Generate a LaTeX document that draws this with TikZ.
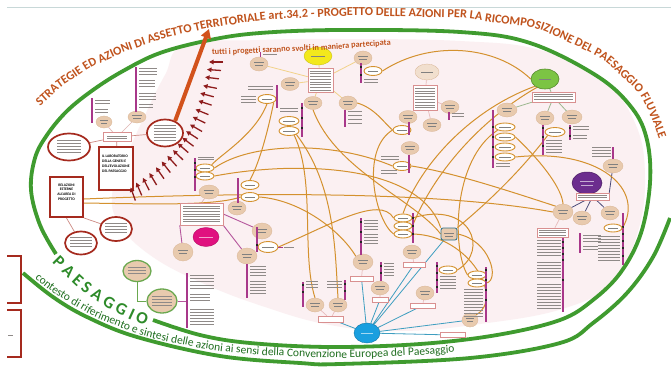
\documentclass[tikz,border=0pt]{standalone}
\usepackage{fontspec}
\newfontfamily\carl{Carlito}
\usetikzlibrary{shapes.geometric,decorations.text,arrows.meta}
\pgfdeclarelayer{back}
\pgfdeclarelayer{bg}
\pgfsetlayers{back,bg,main}
\definecolor{pinkbg}{HTML}{FBF0F2}
\definecolor{orc}{HTML}{D4912E}
\definecolor{beig}{HTML}{E8CAAE}
\definecolor{beigd}{HTML}{D9B595}
\definecolor{magc}{HTML}{A8388A}
\definecolor{redc}{HTML}{A52A1E}
\definecolor{grnl}{HTML}{3F9B2F}
\definecolor{grnb}{HTML}{6AA84F}
\definecolor{titc}{HTML}{C0531D}
\definecolor{dgr}{HTML}{1F6E1F}
\definecolor{pgr}{HTML}{2E8B2A}
\definecolor{cyc}{HTML}{1A9FDF}
\definecolor{cylc}{HTML}{3E9EC0}
\definecolor{arrc}{HTML}{8E1C1C}
\definecolor{txg}{HTML}{8F8A88}
\definecolor{boxb}{HTML}{D99090}
\definecolor{plc}{HTML}{4A4A78}
\definecolor{ylc}{HTML}{F2D28A}
\definecolor{glc}{HTML}{9DB890}
\definecolor{topl}{HTML}{C8D8D8}
\definecolor{yelc}{HTML}{F3E81C}
\definecolor{grec}{HTML}{7CC444}
\definecolor{purc}{HTML}{6C2D8E}
\definecolor{mgec}{HTML}{E0117F}
\definecolor{bigarr}{HTML}{D2521C}
\newcommand\tlines[5]{\foreach \k in {1,...,#4}{\draw[tl] (#1,{#2+(\k-1)*#5}) -- ++(#3,0);}}
\newcommand\bnode[5]{\node[bell,minimum width=#4pt,minimum height=#5pt] (#1) at (#2,#3) {};
  \draw[intx] ({#2-#4*0.26},{#3-1.4}) -- ({#2+#4*0.26},{#3-1.4}) ({#2-#4*0.2},{#3+1.3}) -- ({#2+#4*0.2},{#3+1.3});}
\newcommand\onode[5]{\node[oell,minimum width=#4pt,minimum height=#5pt] (#1) at (#2,#3) {};
  \draw[intx,line width=0.35pt] ({#2-#4*0.28},{#3}) -- ({#2+#4*0.28},{#3});}
\newcommand\blsq[2]{\fill[black!85] ({#1-1.3},{#2-1.3}) rectangle ({#1+1.3},{#2+1.3});}
\begin{document}
\begin{tikzpicture}[x=1pt,y=-1pt,
 bell/.style={ellipse,fill=beig,draw=beigd,line width=0.3pt,inner sep=0pt},
 oell/.style={ellipse,draw=orc,line width=0.9pt,fill=white,inner sep=0pt},
 rell/.style={ellipse,draw=redc,line width=1.7pt,fill=white,inner sep=0pt},
 gell/.style={ellipse,draw=grnb,line width=1.3pt,fill=beig,inner sep=0pt},
 wbox/.style={rectangle,draw=boxb,line width=0.5pt,fill=white,inner sep=0pt},
 hbox/.style={rectangle,draw=redc,line width=2pt,fill=white,inner sep=0pt},
 conn/.style={draw=orc,line width=1pt},
 mbar/.style={draw=magc,line width=1.4pt},
 tl/.style={draw=txg,line width=0.55pt},
 intx/.style={draw=black!50,line width=0.45pt},
 rl/.style={draw=redc!55,line width=0.7pt},
 cyl/.style={draw=cylc,line width=0.8pt},
 pl/.style={draw=plc,line width=0.8pt},
 yl/.style={draw=ylc,line width=0.8pt},
 gl/.style={draw=glc,line width=0.8pt},
 ml/.style={draw=magc!85,line width=0.9pt},
 boxfont/.style={font=\carl\bfseries\fontsize{3.7}{4.8}\selectfont}]
\useasboundingbox (0,0) rectangle (671,369);

% ---------------- back layer: regions and green frame
\begin{pgfonlayer}{back}
\fill[white] (0,0) rectangle (671,369);
\fill[pinkbg] plot[smooth cycle,tension=0.7] coordinates {(185,45) (260,40) (340,39) (460,41) (540,50) (600,78) (635,123) (645,180) (636,238) (612,283) (562,309) (480,324) (400,331) (330,325) (262,306) (200,282) (150,255) (120,225) (112,195) (125,160) (145,115) (165,75)};
\draw[grnl,line width=3.8pt] plot[smooth,tension=0.6] coordinates {(56,254) (40,225) (31,190) (35,158) (47,135) (67,111) (93,90) (123,71) (160,53) (210,40) (260,33) (340,30) (460,32) (530,43) (597,76) (632,108) (647,140) (650,183) (641,233) (621,272) (593,300) (560,320) (497,335) (420,344) (330,347) (250,343) (200,335) (153,320)};
\draw[grnl,line width=3.8pt] plot[smooth,tension=0.6] coordinates {(23,273) (53,297) (87,317) (137,337) (220,356) (300,363) (340,364) (470,358) (560,343) (593,323) (627,293) (653,257) (670,218)};
\draw[topl,line width=0.8pt] (7,7) -- (671,7);
\end{pgfonlayer}

% ---------------- left cluster
\node[rell,minimum width=42pt,minimum height=27pt] (redL) at (69,147) {};
\tlines{57}{140}{24}{5}{3}
\node[rell,minimum width=36pt,minimum height=27pt] (redR) at (165,133) {};
\tlines{154}{125}{22}{6}{3}
\node[wbox,minimum width=28pt,minimum height=9pt] (cbox) at (117,137) {};
\tlines{107}{136}{20}{2}{2.5}
\bnode{bA}{104}{122}{16}{12}
\bnode{bB}{137}{117}{18}{12}
\node[hbox,minimum width=34pt,minimum height=43pt] (lab) at (116,168.5) {};
\node[anchor=north west,inner sep=0pt,align=left,boxfont] (labt) at (102,155) {IL LABORATORIO\\DELLA GENESI E\\DELL'EVOLUZIONE\\DEL PAESAGGIO};
\node[hbox,minimum width=33pt,minimum height=40pt] (rel) at (66.5,197) {};
\node[inner sep=0pt,align=center,boxfont] (relt) at (66.5,192) {RELAZIONI\\ESTERNE\\ALL'AREA DI\\PROGETTO};
\node[rell,minimum width=32pt,minimum height=24pt] (redBa) at (116,229) {};
\tlines{105}{223}{22}{4}{3}
\node[rell,minimum width=32pt,minimum height=23pt] (redBb) at (81,243) {};
\tlines{70}{237}{22}{4}{3}
\node[gell,minimum width=28pt,minimum height=21pt] (ga) at (137,271) {};
\tlines{128}{267}{18}{3}{3}
\node[gell,minimum width=30pt,minimum height=24pt] (gb) at (162,301) {};
\tlines{152}{296}{20}{4}{3}
\draw[mbar] (92,98) -- (92,123); \tlines{95}{100}{15}{2}{3.5} \tlines{95}{109}{13}{2}{3.5}
\draw[mbar] (136,67) -- (136,112); \tlines{139}{68}{18}{3}{3.2} \tlines{139}{80}{16}{3}{3.2} \tlines{139}{93}{17}{3}{3.2} \tlines{139}{104}{14}{2}{3.2}
\draw[mbar] (187,273) -- (187,328); \tlines{190}{275}{24}{5}{3.3} \tlines{190}{294}{20}{3}{3.3} \tlines{190}{309}{24}{6}{3}
\draw[redc,line width=1.5pt] (7,256) -- (21,256) -- (21,303) -- (7,303);
\draw[redc,line width=1.5pt] (7,310) -- (21,310) -- (21,357) -- (7,357);
\draw[tl] (8,335) -- (13,335);

% ---------------- centre-left cluster
\node[wbox,minimum width=43pt,minimum height=22pt] (bigbox) at (201.5,214) {};
\tlines{183}{206}{37}{7}{2.6}
\node[ellipse,fill=mgec,draw=mgec!80!black,line width=0.4pt,minimum width=26pt,minimum height=19pt,inner sep=0pt] (mge) at (206,237) {};
\draw[draw=white!60!mgec,line width=0.5pt] (199,237) -- (213,237);
\bnode{bC}{183}{252}{20}{18}
\bnode{bD}{247}{256}{20}{16}
\bnode{bE}{262}{231}{20}{16}
\bnode{bF}{237}{208}{18}{14}
\bnode{bG}{209}{192}{20}{14}
\onode{oA}{268}{247}{20}{11}
\onode{oB}{250}{185}{18}{9}
\onode{oC}{250}{197}{18}{9}
\onode{oLa}{205}{168}{18}{8}
\onode{oLb}{205}{176}{18}{8}
\draw[mbar] (257,227) -- (257,252); \blsq{257}{245}
\draw[mbar] (247,264) -- (247,298); \tlines{250}{266}{16}{4}{3} \tlines{250}{281}{16}{5}{3}
\draw[mbar] (238,178) -- (238,203);
\draw[mbar] (195,158) -- (195,191); \blsq{195}{163} \blsq{195}{170} \blsq{195}{177}
\tlines{198}{157}{16}{2}{2.5}
\draw[magc,line width=0.8pt] (oA.east) -- (283,247); \tlines{284}{247}{10}{1}{3}

% ---------------- top-centre cluster
\node[ellipse,fill=yelc,draw=yelc!80!black,line width=0.3pt,minimum width=28pt,minimum height=18pt,inner sep=0pt] (yel) at (318,56) {};
\draw[intx] (311,56) -- (325,56);
\node[wbox,minimum width=25pt,minimum height=24pt] (tbox) at (320.5,80) {};
\tlines{310}{71}{21}{8}{2.7}
\bnode{ba}{259}{64}{18}{14}
\bnode{bb}{290}{84}{18}{13}
\bnode{bc}{313}{103}{18}{13}
\bnode{bd}{348}{103}{18}{14}
\bnode{be}{363}{58}{18}{14}
\node[bell,fill=beig!60,minimum width=24pt,minimum height=16pt] (bf) at (427,72) {};
\draw[intx] (421,72) -- (433,72);
\node[wbox,minimum width=24pt,minimum height=25pt] (boxb) at (425,97.5) {};
\tlines{415}{88}{20}{8}{2.8}
\bnode{bg}{450}{107}{18}{13}
\bnode{bh}{408}{117}{18}{13}
\bnode{bi}{432}{125}{18}{13}
\bnode{bj}{410}{148}{18}{13}
\onode{oD}{267}{99}{18}{9}
\onode{oE}{289}{121}{20}{9}
\onode{oF}{289}{131}{20}{9}
\onode{oG}{373}{71}{18}{9}
\onode{oH}{402}{130}{18}{9}
\onode{oI}{402}{166}{18}{9}
\draw[mbar,line width=1pt] (260,52) -- (260,57); \tlines{263}{54}{14}{1}{3}
\draw[mbar] (277,85) -- (277,108); \tlines{248}{86}{25}{2}{3} \tlines{241}{96}{15}{3}{3}
\draw[mbar] (302,103) -- (302,137); \blsq{302}{108} \blsq{302}{118} \blsq{302}{128}
\tlines{280}{108}{18}{2}{3}
\draw[mbar] (345,110) -- (345,127); \tlines{348}{111}{14}{4}{4}
\draw[mbar] (361,63) -- (361,83); \blsq{361}{67} \blsq{361}{75} \tlines{364}{79}{14}{2}{3}
\draw[mbar] (449,112) -- (449,120); \tlines{452}{113}{12}{2}{3}
\draw[mbar] (409,122) -- (409,135);
\draw[mbar] (409,155) -- (409,173); \tlines{381}{156}{18}{2}{3} \tlines{381}{170}{16}{2}{3}

% ---------------- green cluster
\node[ellipse,fill=grec,draw=grec!70!black,line width=0.6pt,minimum width=28pt,minimum height=20pt,inner sep=0pt] (gre) at (545,79) {};
\draw[intx] (539,79) -- (551,79);
\node[wbox,minimum width=43pt,minimum height=10pt] (boxc) at (553.5,97) {};
\tlines{534}{94}{39}{3}{2.5}
\bnode{bk}{507}{110}{20}{14}
\bnode{bl}{545}{118}{18}{14}
\bnode{bm}{572}{117}{20}{14}
\draw[mbar] (493,110) -- (493,168); \blsq{493}{127} \blsq{493}{137} \blsq{493}{147} \blsq{493}{157}
\onode{oJ}{505}{127}{20}{8}
\onode{oK}{505}{137}{20}{8}
\onode{oL}{505}{147}{20}{8}
\onode{oM}{505}{157}{20}{8}
\tlines{496}{163}{14}{2}{3}
\draw[mbar] (543,125) -- (543,155); \blsq{543}{128} \blsq{543}{137} \blsq{543}{146}
\onode{oN}{555}{132}{20}{9}
\tlines{546}{140}{16}{5}{3}
\draw[mbar] (570,125) -- (570,140); \blsq{570}{128} \blsq{570}{136}
\tlines{573}{126}{16}{2}{3} \tlines{573}{135}{14}{2}{3}

% ---------------- right cluster
\bnode{bn}{613}{166}{20}{14}
\draw[mbar] (613,147) -- (613,159); \tlines{592}{147}{19}{4}{3}
\node[ellipse,fill=purc,draw=purc!70!black,line width=0.5pt,minimum width=30pt,minimum height=22pt,inner sep=0pt] (pur) at (587,183) {};
\draw[draw=white!60!purc,line width=0.5pt] (580,181) -- (594,181) (581,185) -- (593,185);
\node[wbox,minimum width=33pt,minimum height=7pt] (boxd) at (592.5,196.5) {};
\tlines{578}{195}{29}{2}{2.5}
\bnode{bo}{563}{212}{20}{16}
\bnode{bp}{582}{218}{18}{14}
\bnode{bq}{610}{213}{18}{14}
\draw[mbar] (623,213) -- (623,265); \blsq{623}{227} \blsq{623}{234} \blsq{623}{241} \blsq{623}{248} \blsq{623}{256}
\onode{oO}{613}{228}{18}{8}
\tlines{598}{236}{22}{9}{3}
\node[wbox,minimum width=31pt,minimum height=9pt] (boxe) at (552.5,232.5) {};
\tlines{539}{230}{27}{3}{2.5}
\draw[mbar] (563,238) -- (563,312); \blsq{563}{242} \blsq{563}{248} \blsq{563}{254} \blsq{563}{260} \blsq{563}{280}
\tlines{537}{240}{24}{6}{3} \tlines{537}{262}{24}{6}{3} \tlines{537}{284}{24}{9}{3}
\draw[mbar] (580,233) -- (580,253); \tlines{583}{235}{18}{3}{3} \tlines{583}{246}{15}{2}{3}

% ---------------- bottom cluster
\node[ellipse,fill=cyc,draw=cyc!75!black,line width=0.4pt,minimum width=26pt,minimum height=20pt,inner sep=0pt] (cyan) at (367,333) {};
\draw[draw=white!60!cyc,line width=0.5pt] (361,333) -- (373,333);
\bnode{br}{363}{262}{20}{16}
\node[wbox,minimum width=23pt,minimum height=5pt] (boxf) at (361.5,278.5) {};
\bnode{bs}{380}{288}{18}{14}
\node[wbox,minimum width=16pt,minimum height=5pt] (boxg) at (380,299.5) {};
\bnode{bt}{412}{252}{18}{14}
\node[wbox,minimum width=22pt,minimum height=5pt] (boxh) at (414,264.5) {};
\node[rectangle,rounded corners=2pt,fill=beig,draw=cylc!70!black,line width=0.8pt,minimum width=16pt,minimum height=12pt,inner sep=0pt] (blb) at (449,234) {};
\draw[intx] (444,233) -- (454,233) (445,236) -- (453,236);
\bnode{bu}{425}{293}{18}{14}
\node[wbox,minimum width=25pt,minimum height=5pt] (boxi) at (422.5,305.5) {};
\bnode{bv}{470}{320}{16}{14}
\node[wbox,minimum width=25pt,minimum height=5pt] (boxj) at (452.5,335) {};
\bnode{bw}{315}{305}{18}{14}
\bnode{bx}{338}{305}{18}{14}
\node[wbox,minimum width=25pt,minimum height=6pt] (boxk) at (330.5,319) {};
\onode{oP}{403}{218}{18}{8}
\onode{oQ}{403}{226}{18}{8}
\onode{oR}{403}{234}{18}{8}
\onode{oS}{448}{270}{18}{8}
\onode{oT}{477}{275}{18}{8}
\onode{oU}{477}{283}{18}{8}
\draw[mbar] (361,218) -- (361,255); \blsq{361}{222} \blsq{361}{232} \blsq{361}{242}
\tlines{364}{220}{14}{4}{3} \tlines{364}{234}{14}{4}{3}
\draw[mbar] (381,262) -- (381,281); \blsq{381}{266} \blsq{381}{273} \tlines{384}{263}{10}{5}{3}
\draw[mbar] (413,213) -- (413,243); \blsq{413}{218} \blsq{413}{226} \blsq{413}{234}
\draw[mbar] (437,262) -- (437,293); \blsq{437}{266} \blsq{437}{273} \blsq{437}{280} \blsq{437}{287}
\tlines{440}{276}{16}{5}{3}
\draw[mbar] (486,267) -- (486,322); \blsq{486}{270} \blsq{486}{280} \blsq{486}{290} \blsq{486}{300}
\tlines{464}{289}{19}{10}{3}
\draw[mbar] (303,282) -- (303,307); \blsq{303}{285} \blsq{303}{292} \tlines{306}{281}{12}{3}{3}
\draw[mbar] (345,280) -- (345,300); \blsq{345}{284} \blsq{345}{291} \tlines{327}{281}{15}{3}{3}

% ---------------- thin connectors and orange curves
\begin{pgfonlayer}{bg}
\draw[rl] (redL) -- (cbox) (cbox) -- (redR) (cbox) -- (lab);
\draw[rl,draw=redc!35] (cbox) -- (bA) (cbox) -- (bB);
\draw[rl] (rel.south) -- (redBb) (rel.south east) -- (redBa);
\draw[grnb,line width=0.9pt] (ga.south) |- (gb.west);
\draw[ml] (gb.east) -- (187,301);
\draw[ml] (bigbox.south west) -- (bC) (bigbox.south east) -- (bD) (bigbox.east) -- (bE);
\draw[rl,draw=redc!35] (bigbox.north) -- (bG);
\draw[yl] (tbox) -- (yel) (tbox) -- (ba) (tbox) -- (bb) (tbox) -- (be) (tbox) -- (bc) (tbox) -- (bd);
\draw[rl,draw=boxb!60] (bf) -- (boxb) (boxb) -- (bg) (boxb) -- (bh) (boxb) -- (bi);
\draw[gl] (gre) -- (boxc) (boxc.south west) -- (bk) (boxc) -- (bl) (boxc) -- (bm);
\draw[pl] (pur) -- (boxd) (boxd) -- (bo) (boxd) -- (bp) (boxd) -- (bq) (bn) -- (boxd.north east);
\draw[rl,draw=boxb!60] (bo) -- (boxe) (br) -- (boxf) (bs) -- (boxg) (bt) -- (boxh) (bu) -- (boxi) (bw) -- (boxk) (bx) -- (boxk);
\draw[cyl] (cyan) -- (boxk) (cyan) -- (boxf) (cyan) -- (boxg) (cyan) -- (boxh) (cyan) -- (boxi) (cyan) -- (blb) (cyan) -- (bv) (cyan) -- (boxj);
% orange curves
\draw[conn] (oG.east) .. controls (430,40) and (495,45) .. (gre.west);
\draw[conn] (gre.south west) .. controls (470,110) and (420,165) .. (oP.north);
\draw[conn] ([xshift=4pt]gre.south west) .. controls (482,118) and (434,172) .. (oQ.east);
\draw[conn] (oE.south) .. controls (318,170) and (300,250) .. (bw.north);
\draw[conn] (oF.south east) .. controls (335,185) and (335,250) .. (bx.north);
\draw[conn] (oD.south) .. controls (255,135) and (220,155) .. (oLa.north east);
\draw[conn] (oD.south east) .. controls (266,140) and (258,165) .. (oB.north);
\draw[conn] (oA.east) .. controls (330,225) and (380,195) .. (oP.west);
\draw[conn] ([yshift=-2pt]rel.east) .. controls (300,190) and (460,195) .. (bo.west);
\draw[conn] ([yshift=-6pt]rel.east) .. controls (150,204) and (215,206) .. (oC.west);
\draw[conn] (oI.west) .. controls (330,140) and (250,143) .. (oLa.east);
\draw[conn] (oLb.east) .. controls (300,160) and (420,165) .. (blb.north west);
\draw[conn] (oJ.south west) .. controls (452,160) and (452,250) .. (oT.west);
\draw[conn] (oM.east) .. controls (600,148) and (645,190) .. (oO.east);
\draw[conn] (oK.east) .. controls (545,165) and (562,190) .. (bo.north);
\draw[conn] (oN.south west) .. controls (520,172) and (485,205) .. (blb.north east);
\draw[conn] (oH.west) .. controls (360,150) and (375,220) .. (oR.west);
\draw[conn] (bd.east) .. controls (375,108) and (385,124) .. (oH.west);
\draw[conn] (bc.south) .. controls (335,170) and (415,200) .. (blb.west);
\draw[conn] (oI.east) .. controls (450,172) and (500,188) .. (bo.north west);
\draw[conn] (oP.east) .. controls (470,200) and (490,250) .. (oS.east);
\draw[conn] (blb.east) .. controls (490,240) and (500,280) .. (oU.east);
\draw[conn] (oC.east) .. controls (300,200) and (340,230) .. (br.north west);
\draw[conn] (oR.east) .. controls (470,235) and (505,300) .. (bv.north east);
\end{pgfonlayer}

% ---------------- small red arrows and big arrow
\foreach \mx/\my/\ma in {216/62/180,214/70/176,212/78/173,210/87/169,207/95/165,205/103/162,202/112/158,199/120/154,196/128/150,192/135/147,188/142/143,183/148/139,178/155/136,172/161/132,166/167/128,160/173/125,153/179/121,146/184/117,139/189/113,133/194/110}
 {\draw[arrc,line width=1.3pt,-{Triangle[length=4.5pt,width=4.5pt]}] ({\mx-7*cos(\ma)},{\my+7*sin(\ma)}) -- ({\mx+7*cos(\ma)},{\my-7*sin(\ma)});}
\coordinate (bigtip) at (209,29);
\draw[bigarr,line width=4pt,-{Triangle[length=9pt,width=10pt]}] (redR.50) -- (bigtip);

% ---------------- texts along the frame
\begin{scope}[y=1pt]
\path[decorate,decoration={text along path,text align=left,
 text={|\carl\bfseries\fontsize{12.2}{12}\selectfont\color{titc}|STRATEGIE ED AZIONI DI ASSETTO TERRITORIALE art.34.2 - PROGETTO DELLE AZIONI PER LA RICOMPOSIZIONE DEL PAESAGGIO FLUVIALE}}]
 plot[smooth,tension=0.5] coordinates {(40,-106) (49,-98) (60,-88) (75,-78) (90,-68) (107,-60) (125,-52) (145,-45) (165,-38) (187,-33) (210,-28) (237,-24) (265,-20) (302,-18) (340,-16) (380,-16) (420,-17) (460,-18) (498,-23) (537,-29) (570,-43) (603,-60) (622,-77) (640,-95) (652,-120) (662,-148) (668,-175)};
\path[decorate,decoration={text along path,text align=left,
 text={|\carl\bfseries\fontsize{8.3}{9}\selectfont\color{titc}|tutti i progetti saranno svolti in maniera partecipata}}]
 plot[smooth,tension=0.5] coordinates {(212,-55) (235,-54) (256,-53) (278,-52) (300,-51) (325,-50) (351,-48) (376,-46) (402,-44) (430,-41)};
\path[decorate,decoration={text along path,text align=left,
 text={|\carl\bfseries\fontsize{17}{17}\selectfont\color{pgr}|P{ }A{ }E{ }S{ }A{ }G{ }G{ }I{ }O}}]
 plot[smooth,tension=0.5] coordinates {(52,-262) (66,-276) (80,-289) (97,-301) (115,-312) (136,-322) (157,-329) (175,-334)};
\path[decorate,decoration={text along path,text align=left,
 text={|\carl\fontsize{11.5}{12}\selectfont\color{dgr}|contesto di riferimento e sintesi delle azioni ai sensi della Convenzione Europea del Paesaggio}}]
 plot[smooth,tension=0.5] coordinates {(35,-278) (47,-288) (60,-297) (77,-307) (95,-317) (117,-326) (140,-335) (160,-340) (180,-344) (200,-348) (220,-351) (240,-353) (260,-355) (280,-356) (300,-357) (320,-357.5) (340,-358) (360,-357.8) (380,-357) (402,-356) (425,-355) (448,-353) (470,-351) (500,-348)};
\end{scope}
\end{tikzpicture}
\end{document}
